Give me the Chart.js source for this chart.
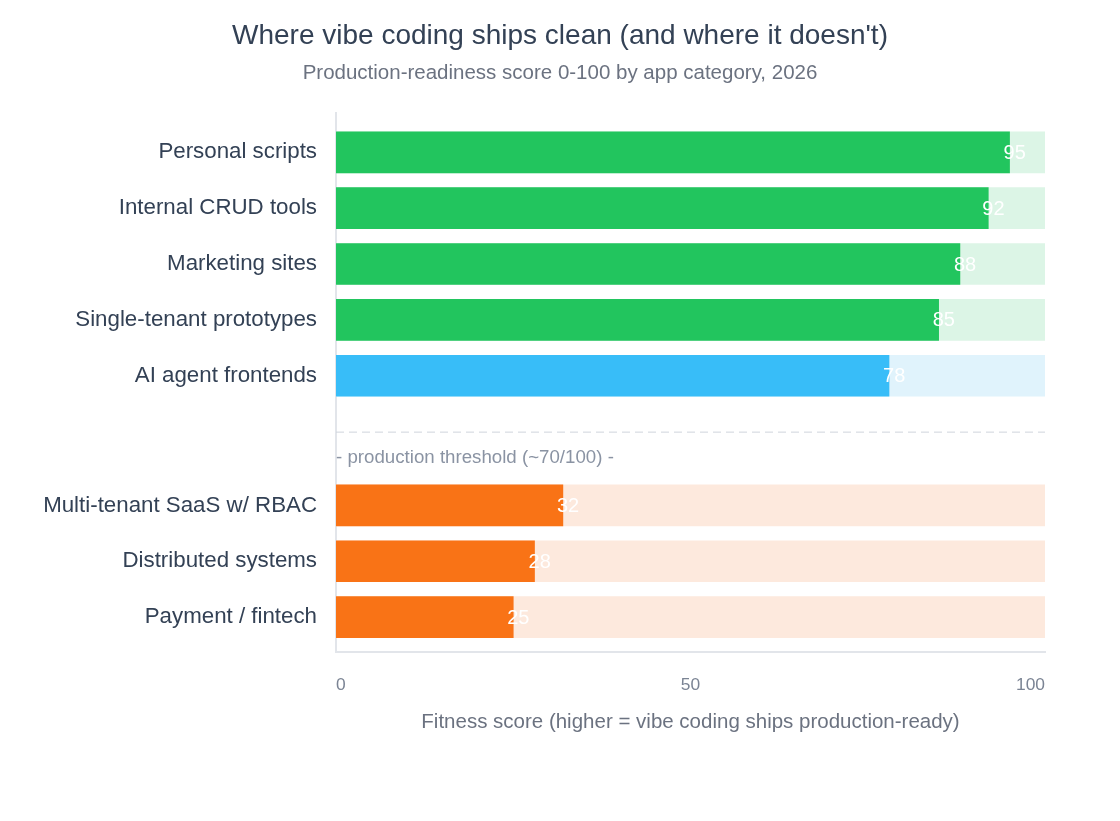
<!DOCTYPE html>
<html>
<head>
<meta charset="utf-8">
<title>Where vibe coding ships clean</title>
<script src="https://cdn.jsdelivr.net/npm/chart.js@4.4.1/dist/chart.umd.min.js"></script>
<style>
  html, body { margin: 0; padding: 0; background: #ffffff; }
  #wrap { width: 1120px; height: 821px; }
</style>
</head>
<body>
<div id="wrap"><canvas id="myChart" width="1120" height="821"></canvas></div>
<script>
// chart data
const categories = [
    "Personal scripts",
    "Internal CRUD tools",
    "Marketing sites",
    "Single-tenant prototypes",
    "AI agent frontends",
    "Multi-tenant SaaS w/ RBAC",
    "Distributed systems",
    "Payment / fintech"
];
const scores = [95, 92, 88, 85, 78, 32, 28, 25];
const maxScore = 100;
const xTicks = [0, 50, 100];
const threshold = 70;
const thresholdLabel = "- production threshold (~70/100) -";

// rows above the threshold sit at 0..n, the divider takes one slot, then a little extra room
const aboveCount = scores.filter(s => s >= threshold).length;
const EXTRA_GAP = 0.32;
const rowPos = categories.map((c, i) => i < aboveCount ? i : i + 1 + EXTRA_GAP);
const dividerPos = aboveCount;

function barColor(s) {
    if (s >= 80) return "#22c55e";
    if (s >= threshold) return "#38bdf8";
    return "#f97316";
}
function trackColor(s) {
    if (s >= 80) return "#dcf5e6";
    if (s >= threshold) return "#e0f3fc";
    return "#fde9dd";
}

const FONT = "'Liberation Sans', Arial, Helvetica, sans-serif";
Chart.defaults.font.family = FONT;

// dashed threshold divider + value labels
const extras = {
    id: "extras",
    afterDatasetsDraw(chart) {
        const ctx = chart.ctx;
        const area = chart.chartArea;
        const yScale = chart.scales.y;
        const y = yScale.getPixelForValue(dividerPos);

        ctx.save();
        ctx.strokeStyle = "#cfd4dc";
        ctx.lineWidth = 1;
        ctx.setLineDash([8, 5]);
        ctx.beginPath();
        ctx.moveTo(area.left, y + 0.5);
        ctx.lineTo(area.right, y + 0.5);
        ctx.stroke();
        ctx.setLineDash([]);

        ctx.fillStyle = "#8a93a3";
        ctx.font = "18.7px " + FONT;
        ctx.textAlign = "left";
        ctx.textBaseline = "middle";
        ctx.fillText(thresholdLabel, area.left, y + 26);

        // numbers at the end of each bar
        const meta = chart.getDatasetMeta(1);
        ctx.fillStyle = "#ffffff";
        ctx.font = "20px " + FONT;
        meta.data.forEach((bar, i) => {
            ctx.fillText(String(scores[i]), bar.x - 6, bar.y + 1);
        });
        ctx.restore();
    }
};

new Chart("myChart", {
    type: "bar",
    data: {
        datasets: [{
            label: "track",
            data: rowPos.map(p => ({ x: maxScore, y: p })),
            backgroundColor: scores.map(trackColor),
            order: 2
        }, {
            label: "score",
            data: rowPos.map((p, i) => ({ x: scores[i], y: p })),
            backgroundColor: scores.map(barColor),
            order: 1
        }]
    },
    options: {
        indexAxis: "y",
        responsive: false,
        animation: false,
        grouped: false,
        barThickness: 41,
        layout: { padding: { left: 0, right: 0, top: 0, bottom: 86 } },
        plugins: {
            legend: { display: false },
            tooltip: { enabled: false },
            title: {
                display: true,
                text: "Where vibe coding ships clean (and where it doesn't)",
                color: "#334155",
                font: { size: 28, weight: "normal" },
                padding: { top: 19, bottom: 6 }
            },
            subtitle: {
                display: true,
                text: "Production-readiness score 0-100 by app category, 2026",
                color: "#6b7280",
                font: { size: 20.5, weight: "normal" },
                padding: { top: 2, bottom: 28 }
            }
        },
        scales: {
            x: {
                type: "linear",
                min: 0,
                max: maxScore,
                afterBuildTicks: s => { s.ticks = xTicks.map(v => ({ value: v })); },
                grid: { display: false, drawTicks: false },
                border: { display: true, color: "#e2e5ea", width: 2 },
                ticks: { color: "#7b8494", font: { size: 17.4 }, padding: 23, align: "inner" },
                title: {
                    display: true,
                    text: "Fitness score (higher = vibe coding ships production-ready)",
                    color: "#6b7280",
                    font: { size: 20.5 },
                    padding: { top: -8.5, bottom: 0 }
                }
            },
            y: {
                type: "linear",
                reverse: true,
                offset: false,
                min: -0.7,
                max: rowPos[rowPos.length - 1] + 0.625,
                afterBuildTicks: s => { s.ticks = rowPos.map(v => ({ value: v })); },
                afterFit: s => { s.width = 336; },
                grid: { display: false, drawTicks: false },
                border: { display: true, color: "#e2e5ea", width: 2 },
                ticks: {
                    autoSkip: false,
                    color: "#334155",
                    font: { size: 22.3 },
                    padding: 19,
                    callback: (value, index) => categories[index]
                }
            },
            // empty right-hand gutter so the titles stay centred on the page
            gutter: {
                type: "linear",
                position: "right",
                display: true,
                grid: { display: false, drawTicks: false },
                border: { display: false },
                ticks: { display: false },
                afterFit: s => { s.width = 75; }
            }
        }
    },
    plugins: [extras]
});
</script>
</body>
</html>
